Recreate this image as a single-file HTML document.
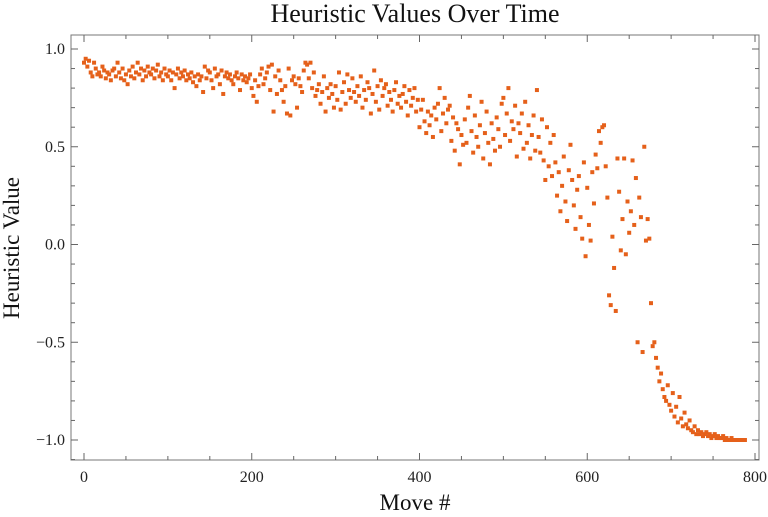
<!DOCTYPE html>
<html><head><meta charset="utf-8"><style>
html,body{margin:0;padding:0;background:#fff;}
svg{display:block;font-family:"Liberation Serif",serif;}
</style></head><body>
<svg id="chart" width="768" height="517" viewBox="0 0 768 517">
<text x="415" y="22" font-size="26" text-anchor="middle" fill="#111">Heuristic Values Over Time</text>
<text x="415" y="510" font-size="23" text-anchor="middle" fill="#111">Move #</text>
<text x="19" y="248" font-size="23" text-anchor="middle" fill="#111" transform="rotate(-90 19 248)">Heuristic Value</text>
<rect x="71" y="35" width="688" height="425" fill="none" stroke="#777" stroke-width="1"/>
<g id="axes"></g>
<g id="points"></g>
</svg>
<script>
const xStart = 0;
const xStep = 2;
const values = [
0.93,0.95,0.91,0.94,0.88,0.86,0.93,0.90,0.87,0.88,
0.86,0.91,0.89,0.85,0.88,0.87,0.84,0.89,0.90,0.86,
0.93,0.88,0.85,0.90,0.84,0.87,0.82,0.89,0.86,0.91,
0.85,0.88,0.93,0.87,0.90,0.84,0.89,0.86,0.91,0.88,
0.87,0.90,0.85,0.89,0.92,0.86,0.88,0.84,0.90,0.87,
0.86,0.89,0.84,0.88,0.80,0.87,0.90,0.85,0.88,0.86,
0.89,0.84,0.87,0.85,0.88,0.83,0.86,0.81,0.87,0.84,
0.86,0.78,0.91,0.85,0.89,0.88,0.84,0.80,0.90,0.86,
0.87,0.82,0.89,0.77,0.86,0.88,0.85,0.87,0.84,0.82,
0.86,0.88,0.85,0.79,0.87,0.84,0.86,0.83,0.85,0.87,
0.80,0.76,0.84,0.73,0.81,0.87,0.90,0.82,0.85,0.88,
0.91,0.79,0.92,0.68,0.86,0.77,0.89,0.84,0.79,0.73,
0.81,0.67,0.90,0.66,0.84,0.86,0.82,0.70,0.85,0.81,
0.78,0.89,0.93,0.92,0.85,0.93,0.80,0.88,0.76,0.79,
0.82,0.72,0.78,0.86,0.68,0.80,0.75,0.82,0.77,0.70,
0.81,0.74,0.88,0.69,0.78,0.83,0.72,0.87,0.79,0.75,
0.85,0.78,0.73,0.81,0.76,0.86,0.70,0.79,0.74,0.83,
0.80,0.67,0.77,0.89,0.73,0.81,0.69,0.84,0.76,0.80,
0.82,0.71,0.78,0.74,0.68,0.79,0.83,0.72,0.76,0.70,
0.77,0.81,0.73,0.66,0.79,0.71,0.75,0.80,0.68,0.74,
0.60,0.69,0.74,0.63,0.57,0.68,0.61,0.66,0.55,0.70,
0.64,0.72,0.80,0.58,0.67,0.75,0.62,0.69,0.71,0.53,
0.65,0.48,0.62,0.59,0.41,0.56,0.51,0.64,0.52,0.70,
0.76,0.58,0.47,0.66,0.55,0.50,0.61,0.73,0.44,0.57,
0.68,0.52,0.41,0.62,0.54,0.48,0.65,0.59,0.50,0.72,
0.75,0.56,0.67,0.80,0.53,0.63,0.59,0.71,0.45,0.62,
0.57,0.67,0.49,0.73,0.52,0.61,0.44,0.56,0.66,0.48,
0.79,0.55,0.47,0.64,0.43,0.33,0.60,0.40,0.52,0.35,
0.56,0.42,0.25,0.37,0.17,0.30,0.45,0.22,0.12,0.38,
0.51,0.33,0.20,0.08,0.28,0.35,0.14,0.03,0.42,-0.06,
0.29,0.10,0.02,0.37,0.21,0.46,0.39,0.58,0.52,0.60,
0.61,0.40,0.24,-0.26,-0.31,0.04,-0.12,-0.34,0.44,0.27,
-0.03,0.13,0.44,-0.05,0.22,0.06,0.17,0.43,0.10,0.34,
-0.50,0.24,0.14,-0.55,0.50,0.02,0.13,0.03,-0.30,-0.52,
-0.50,-0.58,-0.63,-0.70,-0.66,-0.74,-0.78,-0.80,-0.72,-0.82,
-0.85,-0.76,-0.88,-0.83,-0.91,-0.78,-0.89,-0.93,-0.86,-0.92,
-0.94,-0.90,-0.95,-0.96,-0.93,-0.97,-0.95,-0.97,-0.96,-0.98,
-0.97,-0.96,-0.98,-0.97,-0.99,-0.98,-0.97,-0.99,-0.98,-0.99,
-0.99,-0.98,-1.0,-0.99,-1.0,-1.0,-0.99,-1.0,-1.0,-1.0,
-1.0,-1.0,-1.0,-1.0,-1.0
];
const xTicks = [0,200,400,600,800];
const yTicks = [-1.0,-0.5,0.0,0.5,1.0];
const yTickLabels = ["\u22121.0","\u22120.5","0.0","0.5","1.0"];

const NS = "http://www.w3.org/2000/svg";
const L = 71, R = 759, T = 35, B = 460;
function xs(v){ return 84 + v * (755 - 84) / 800; }
function ys(v){ return 244.5 - v * 195.5; }
const axes = document.getElementById('axes');
function line(x1,y1,x2,y2,name){
  const l = document.createElementNS(NS,'line');
  l.setAttribute('x1',x1);l.setAttribute('y1',y1);l.setAttribute('x2',x2);l.setAttribute('y2',y2);
  l.setAttribute('stroke','#666');l.setAttribute('stroke-width','1');
  
  
  axes.appendChild(l);
}
for (let v = 0; v <= 800; v += 50) {
  const x = xs(v), len = (v % 200 === 0) ? 7 : 4;
  line(x,B,x,B-len,'x-tick');
  line(x,T,x,T+len,'x-tick-top');
}
for (let k = -11; k <= 11; k++) {
  const v = k / 10;
  const y = ys(v);
  if (y < T || y > B) continue;
  const len = (k % 5 === 0) ? 7 : 4;
  line(L,y,L+len,y,'y-tick');
  line(R,y,R-len,y,'y-tick-right');
}
xTicks.forEach(v => {
  const t = document.createElementNS(NS,'text');
  t.setAttribute('x', xs(v)); t.setAttribute('y', 482);
  t.setAttribute('font-size','16'); t.setAttribute('text-anchor','middle'); t.setAttribute('fill','#222');
  
  
  t.textContent = v;
  axes.appendChild(t);
});
yTicks.forEach((v,i) => {
  const t = document.createElementNS(NS,'text');
  t.setAttribute('x', 65); t.setAttribute('y', ys(v) + 5);
  t.setAttribute('font-size','16'); t.setAttribute('text-anchor','end'); t.setAttribute('fill','#222');
  
  
  t.textContent = yTickLabels[i];
  axes.appendChild(t);
});
const pts = document.getElementById('points');
values.forEach((v,i) => {
  const r = document.createElementNS(NS,'rect');
  const x = xs(xStart + i * xStep), y = ys(v);
  r.setAttribute('x', x - 2); r.setAttribute('y', y - 2);
  r.setAttribute('width', 4); r.setAttribute('height', 4);
  r.setAttribute('fill', '#e5601a');
  
  
  pts.appendChild(r);
});
</script>
</body></html>
